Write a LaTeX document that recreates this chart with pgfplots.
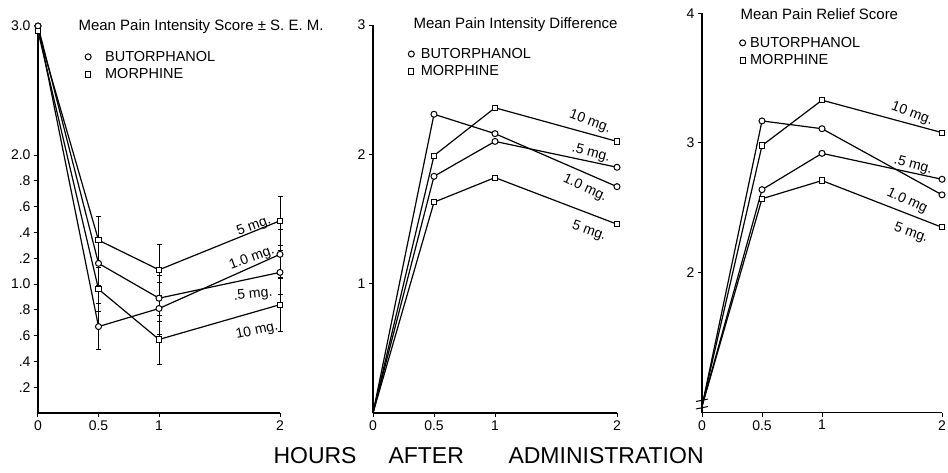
\documentclass[border=0pt]{standalone}
\usepackage{fontspec}
\setmainfont{Liberation Sans}
\usepackage{pgfplots}
\pgfplotsset{compat=1.18}

\pgfplotsset{
  panel/.style={
    scale only axis,
    anchor=south west,
    axis lines=left,
    axis line style={-, line width=1.3pt},
    tick style={black, line width=1pt},
    tick align=outside,
    major tick length=4pt,
    xmin=0, xmax=2,
    xtick={0,0.5,1,2},
    xticklabels={0,0.5,1,2},
    clip=false,
    ticklabel style={font=\fontsize{14}{14}\selectfont},
    /pgf/number format/assume math mode=true,
    every axis plot/.append style={line width=1.2pt, black},
    legend cell align=left,
    legend style={draw=none, fill=none, anchor=north west, inner sep=0pt,
      font=\fontsize{14.5}{15}\selectfont, row sep=2pt},
  },
  leggap/.style={
    legend image code/.code={\draw[##1, only marks] plot coordinates {(3pt,0pt)}; \path[draw=none] (0pt,0pt) -- (#1,0pt);},
  },
  bu/.style={mark=*, mark size=3pt, mark options={fill=white, draw=black, line width=1pt, solid}},
  mo/.style={mark=square*, mark size=2.6pt, mark options={fill=white, draw=black, line width=1pt, solid}},
  eb/.style={only marks, mark=none, error bars/.cd, y dir=both, y explicit, error mark=-,
    error bar style={black, line width=0.9pt}, error mark options={black, mark size=2.5pt, line width=0.9pt, rotate=90}},
}
\newcommand{\dose}[4]{\node[rotate=#3, font=\fontsize{14}{14}\selectfont, inner sep=0pt] at ({#1*1pt},{(472-#2)*1pt}) {#4};}

\begin{document}
\begin{tikzpicture}
\path[use as bounding box] (0pt,0pt) rectangle (948pt,472pt);

% ---------------- Left panel ----------------
\begin{axis}[panel, leggap=18pt, at={(38pt,59pt)}, width=242pt, height=387pt,
  ymin=0, ymax=3,
  ytick={0.2,0.4,0.6,0.8,1.0,1.2,1.4,1.6,1.8,2.0,3.0},
  yticklabels={.2,.4,.6,.8,1.0,.2,.4,.6,.8,2.0,3.0},
  legend style={at={(0.194,0.941)}},
]
\addlegendimage{bu}
\addlegendentry{BUTORPHANOL}
\addlegendimage{mo}
\addlegendentry{MORPHINE}
% error bars
\addplot[eb] coordinates {(0.5,1.34) +- (0,0.18) (1,1.11) +- (0,0.20) (2,1.49) +- (0,0.19)};
\addplot[eb] coordinates {(0.5,1.16) +- (0,0.17) (1,0.89) +- (0,0.18) (2,1.09) +- (0,0.17)};
\addplot[eb] coordinates {(0.5,0.67) +- (0,0.18) (1,0.81) +- (0,0.20) (2,1.23) +- (0,0.19)};
\addplot[eb] coordinates {(0.5,0.96) +- (0,0.17) (1,0.57) +- (0,0.19) (2,0.84) +- (0,0.21)};
% lines
\addplot[mo] coordinates {(0,2.96) (0.5,1.34) (1,1.11) (2,1.49)};  % 5 mg
\addplot[bu] coordinates {(0,3.00) (0.5,1.16) (1,0.89) (2,1.09)};  % .5 mg
\addplot[bu] coordinates {(0,3.00) (0.5,0.67) (1,0.81) (2,1.23)};  % 1.0 mg
\addplot[mo] coordinates {(0,2.96) (0.5,0.96) (1,0.57) (2,0.84)};  % 10 mg
\end{axis}

% ---------------- Middle panel ----------------
\begin{axis}[panel, leggap=10.5pt, at={(373pt,59pt)}, width=244pt, height=388pt,
  ymin=0, ymax=3,
  ytick={1,2,3}, yticklabels={1,2,3},
  legend style={at={(0.144,0.946)}},
]
\addlegendimage{bu}
\addlegendentry{BUTORPHANOL}
\addlegendimage{mo}
\addlegendentry{MORPHINE}
\addplot[mo, mark indices={2,3,4}] coordinates {(0,0) (0.5,1.99) (1,2.36) (2,2.10)}; % 10 mg
\addplot[bu, mark indices={2,3,4}] coordinates {(0,0) (0.5,1.83) (1,2.10) (2,1.90)}; % .5 mg
\addplot[bu, mark indices={2,3,4}] coordinates {(0,0) (0.5,2.31) (1,2.16) (2,1.75)}; % 1.0 mg
\addplot[mo, mark indices={2,3,4}] coordinates {(0,0) (0.5,1.63) (1,1.82) (2,1.46)}; % 5 mg
\end{axis}

% ---------------- Right panel ----------------
\begin{axis}[panel, leggap=8.5pt, at={(702pt,59.3pt)}, width=240pt, height=399.4pt,
  ymin=0.92, ymax=4,
  ytick={2,3,4}, yticklabels={2,3,4},
  legend style={at={(0.156,0.946)}},
]
\addlegendimage{bu}
\addlegendentry{BUTORPHANOL}
\addlegendimage{mo}
\addlegendentry{MORPHINE}
\addplot[mo, mark indices={2,3,4}] coordinates {(0,0.97) (0.5,2.98) (1,3.33) (2,3.08)}; % 10 mg
\addplot[bu, mark indices={2,3,4}] coordinates {(0,0.97) (0.5,3.17) (1,3.11) (2,2.60)}; % 1.0 mg
\addplot[bu, mark indices={2,3,4}] coordinates {(0,0.97) (0.5,2.64) (1,2.92) (2,2.72)}; % .5 mg
\addplot[mo, mark indices={2,3,4}] coordinates {(0,0.97) (0.5,2.57) (1,2.71) (2,2.35)}; % 5 mg
\end{axis}

% axis break on right panel
\draw[line width=1pt] (696pt,70.5pt) -- (708pt,73pt);
\draw[line width=1pt] (696pt,63pt) -- (708pt,65.5pt);

% titles
\node[anchor=west, font=\fontsize{15}{15}\selectfont] at (75pt,445pt) {Mean Pain Intensity Score \raisebox{0.1ex}{±} S. E. M.};
\node[anchor=west, font=\fontsize{15}{15}\selectfont] at (410pt,447pt) {Mean Pain Intensity Difference};
\node[anchor=west, font=\fontsize{15}{15}\selectfont] at (737pt,458pt) {Mean Pain Relief Score};

% dose labels
\dose{254}{226}{20}{5 mg.}
\dose{252}{258}{20}{1.0 mg.}
\dose{253}{295}{6}{.5 mg.}
\dose{257}{331}{12}{10 mg.}

\dose{590}{122}{-20}{10 mg.}
\dose{591}{153}{-15}{.5 mg.}
\dose{585}{188}{-25}{1.0 mg.}
\dose{589}{231}{-20}{5 mg.}

\dose{912}{114}{-20}{10 mg.}
\dose{913}{165}{-15}{.5 mg.}
\dose{907}{201}{-25}{1.0 mg}
\dose{911}{233}{-20}{5 mg.}

% x label
\node[anchor=base west, font=\fontsize{23}{23}\selectfont] at (270pt,9pt) {HOURS};
\node[anchor=base west, font=\fontsize{23}{23}\selectfont] at (385pt,9pt) {AFTER};
\node[anchor=base west, font=\fontsize{23}{23}\selectfont] at (505pt,9pt) {ADMINISTRATION};
\end{tikzpicture}
\end{document}
